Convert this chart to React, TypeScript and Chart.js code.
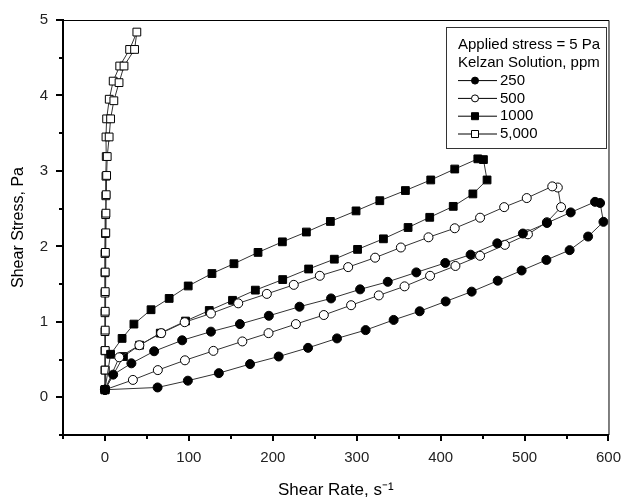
import React, { useEffect, useRef } from 'react';
import { Chart, registerables } from 'chart.js';

Chart.register(...registerables);

// ---- Data (shear rate, 1/s  vs  shear stress, Pa) ----
const rate250 = [0, 62.7, 98.8, 135.7, 172.9, 207, 242, 276.5, 310.6, 344, 375, 406, 437, 468, 496.5, 526, 553.7, 575.7, 594, 590, 584, 555, 526.7, 498, 467.5, 435.7, 405.5, 371, 337, 304, 269.4, 231.8, 195.3, 160.8, 126.3, 92, 58.6, 31.5, 9.8, 0];
const stress250 = [0.1, 0.13, 0.22, 0.32, 0.44, 0.54, 0.655, 0.78, 0.89, 1.025, 1.14, 1.27, 1.4, 1.545, 1.68, 1.82, 1.95, 2.13, 2.325, 2.575, 2.59, 2.45, 2.31, 2.17, 2.04, 1.89, 1.78, 1.655, 1.53, 1.43, 1.31, 1.2, 1.08, 0.97, 0.87, 0.755, 0.61, 0.45, 0.3, 0.1];

const rate500 = [0, 33.3, 63, 95.3, 129.2, 163.7, 194.9, 227.5, 260.8, 293.3, 326.3, 357, 387.4, 417.6, 447, 476.5, 504, 526.6, 543.5, 539.6, 533, 502.6, 475.7, 447, 416.8, 385.5, 352.6, 321.9, 289.8, 256, 225, 192.9, 158.8, 126.3, 95, 67, 41, 17, 0];
const stress500 = [0.1, 0.23, 0.36, 0.49, 0.615, 0.74, 0.85, 0.97, 1.09, 1.22, 1.35, 1.47, 1.61, 1.74, 1.875, 2.02, 2.16, 2.32, 2.52, 2.78, 2.795, 2.64, 2.52, 2.38, 2.24, 2.12, 1.985, 1.85, 1.725, 1.61, 1.49, 1.37, 1.245, 1.11, 0.995, 0.85, 0.69, 0.53, 0.1];

const rate1000 = [0, 22, 41.2, 65.9, 96, 124.3, 152, 179.2, 211.8, 242.7, 273.3, 301, 331.8, 361.2, 387, 415, 438.4, 455.3, 451, 444.3, 416.8, 388.2, 358, 327.5, 299.2, 268.6, 240, 211.4, 182.4, 153.7, 127.5, 99.2, 76.5, 54.9, 34.5, 20.4, 6.7, 0];
const stress1000 = [0.1, 0.54, 0.69, 0.85, 1.01, 1.15, 1.285, 1.42, 1.56, 1.7, 1.83, 1.96, 2.1, 2.25, 2.385, 2.53, 2.695, 2.88, 3.15, 3.16, 3.025, 2.88, 2.74, 2.605, 2.47, 2.33, 2.19, 2.06, 1.92, 1.77, 1.64, 1.475, 1.31, 1.16, 0.97, 0.78, 0.57, 0.1];

const rate5000 = [0, 0, 0, 0, 0, 0, 0, 0, 0.5, 0.8, 1, 1.2, 1.5, 1.2, 2, 5.1, 9.8, 17.6, 29.4, 38, 35.3, 22.7, 16.8, 10.6, 6.7, 5, 2.7, 2, 1.5, 1.2, 1, 0.5, 0.3, 0.3, 0.3, 0.3, 0.3, 0.3, 0.1];
const stress5000 = [0.1, 0.36, 0.615, 0.87, 1.12, 1.38, 1.65, 1.905, 2.17, 2.42, 2.67, 2.93, 3.19, 3.45, 3.69, 3.95, 4.19, 4.39, 4.61, 4.84, 4.61, 4.39, 4.17, 3.93, 3.69, 3.45, 3.19, 2.94, 2.685, 2.44, 2.18, 1.92, 1.66, 1.4, 1.14, 0.89, 0.62, 0.36, 0.1];

const seriesLabels = ['250', '500', '1000', '5,000'];
const legendHeader = ['Applied stress = 5 Pa', 'Kelzan Solution, ppm'];
const xLabelStep = 100;
const yLabelStep = 1;

const FONT = '"Liberation Sans", Arial, Helvetica, sans-serif';

type MarkerKind = { shape: 'circle' | 'rect'; filled: boolean };
const markers: MarkerKind[] = [
  { shape: 'circle', filled: true },
  { shape: 'circle', filled: false },
  { shape: 'rect', filled: true },
  { shape: 'rect', filled: false },
];

const toPoints = (xs: number[], ys: number[]) => xs.map((x, i) => ({ x, y: ys[i] }));

const frameAndLegend = {
  id: 'frameAndLegend',
  afterDraw(chart: any) {
    const { ctx, chartArea } = chart;
    const { left, right, top, bottom } = chartArea;
    const xs = chart.scales.x;
    const ys = chart.scales.y;
    ctx.save();
    // top and right frame
    ctx.strokeStyle = '#000';
    ctx.lineWidth = 1;
    ctx.beginPath();
    ctx.moveTo(left, top + 0.5);
    ctx.lineTo(right + 0.5, top + 0.5);
    ctx.lineTo(right + 0.5, bottom);
    ctx.stroke();
    // ticks
    ctx.lineWidth = 2;
    ctx.beginPath();
    for (let v = xs.min; v <= xs.max + 1e-9; v += 50) {
      const px = Math.round(xs.getPixelForValue(v));
      const major = Math.abs(v % 100) < 1e-6;
      ctx.moveTo(px, bottom);
      ctx.lineTo(px, bottom + (major ? 6 : 4));
    }
    for (let v = ys.min; v <= ys.max + 1e-9; v += 0.5) {
      const py = Math.round(ys.getPixelForValue(v));
      const major = Math.abs(v - Math.round(v)) < 1e-6;
      ctx.moveTo(left, py);
      ctx.lineTo(left - (major ? 7 : 4), py);
    }
    ctx.stroke();

    // legend box
    const bx = 446.5, by = 27.5, bw = 160, bh = 121;
    ctx.fillStyle = '#fff';
    ctx.fillRect(bx, by, bw, bh);
    ctx.strokeStyle = '#333';
    ctx.lineWidth = 1;
    ctx.strokeRect(bx, by, bw, bh);
    ctx.font = `15px ${FONT}`;
    ctx.fillStyle = '#000';
    ctx.textBaseline = 'middle';
    ctx.textAlign = 'left';
    const lineH = 17.8;
    let y = 45;
    legendHeader.forEach((t) => {
      ctx.fillText(t, 458, y);
      y += lineH;
    });
    seriesLabels.forEach((label, i) => {
      ctx.strokeStyle = '#000';
      ctx.lineWidth = 1;
      ctx.beginPath();
      ctx.moveTo(458, y);
      ctx.lineTo(497, y);
      ctx.stroke();
      const m = markers[i];
      ctx.beginPath();
      if (m.shape === 'circle') {
        ctx.arc(475, y, 3.5, 0, Math.PI * 2);
      } else {
        ctx.rect(471.5, y - 3.5, 7, 7);
      }
      ctx.fillStyle = m.filled ? '#000' : '#fff';
      ctx.fill();
      ctx.stroke();
      ctx.fillStyle = '#000';
      ctx.fillText(label, 500, y);
      y += lineH;
    });
    ctx.restore();
  },
};

export default function App() {
  const ref = useRef<HTMLCanvasElement | null>(null);
  useEffect(() => {
    if (!ref.current) return;
    const seriesX = [rate250, rate500, rate1000, rate5000];
    const seriesY = [stress250, stress500, stress1000, stress5000];
    const datasets = seriesLabels.map((label, i) => ({
      label,
      data: toPoints(seriesX[i], seriesY[i]),
      showLine: true,
      borderColor: '#333',
      borderWidth: 1,
      tension: 0,
      pointStyle: markers[i].shape,
      pointRadius: markers[i].shape === 'rect' ? 5.5 : 4.5,
      pointBackgroundColor: markers[i].filled ? '#000' : '#fff',
      pointBorderColor: '#000',
      pointBorderWidth: 1,
    }));
    const chart = new Chart(ref.current, {
      type: 'scatter',
      data: { datasets },
      plugins: [frameAndLegend],
      options: {
        animation: false,
        responsive: false,
        devicePixelRatio: 1,
        layout: { padding: { left: 0, top: 20, right: 14, bottom: 0 } },
        plugins: { legend: { display: false }, tooltip: { enabled: false } },
        scales: {
          x: {
            type: 'linear',
            min: -50,
            max: 600,
            afterFit: (s: any) => { s.height = 63; },
            border: { display: true, color: '#000', width: 2 },
            grid: { display: true, drawOnChartArea: false, drawTicks: true, tickLength: 6, color: 'rgba(0,0,0,0)' },
            ticks: {
              stepSize: 50,
              autoSkip: false,
              maxRotation: 0,
              padding: 8,
              color: '#222',
              font: { family: FONT, size: 15 },
              callback: (v: any) => (Math.abs(Number(v) % xLabelStep) < 1e-6 ? String(v) : ''),
            },
            title: {
              display: true,
              text: 'Shear Rate, s\u207B\u00B9',
              color: '#000',
              font: { family: FONT, size: 17, lineHeight: 1 },
              padding: { top: 0, bottom: -1 },
            },
          },
          y: {
            type: 'linear',
            min: -0.5,
            max: 5,
            afterFit: (s: any) => { s.width = 63; },
            border: { display: true, color: '#000', width: 2 },
            grid: { display: true, drawOnChartArea: false, drawTicks: true, tickLength: 6, color: 'rgba(0,0,0,0)' },
            ticks: {
              stepSize: 0.5,
              autoSkip: false,
              padding: 9,
              color: '#222',
              font: { family: FONT, size: 15 },
              callback: (v: any) => {
                const n = Number(v);
                return Math.abs(n / yLabelStep - Math.round(n / yLabelStep)) < 1e-6 ? String(Math.round(n)) : '';
              },
            },
            title: {
              display: true,
              text: 'Shear Stress, Pa',
              color: '#000',
              font: { family: FONT, size: 16 },
              padding: { top: 9, bottom: 0 },
            },
          },
        },
      },
    } as any);
    return () => chart.destroy();
  }, []);
  return (
    <div style={{ position: 'absolute', left: 0, top: 0, width: 629, height: 498, background: '#fff' }}>
      <canvas ref={ref} width={629} height={498} style={{ display: 'block' }} />
    </div>
  );
}
